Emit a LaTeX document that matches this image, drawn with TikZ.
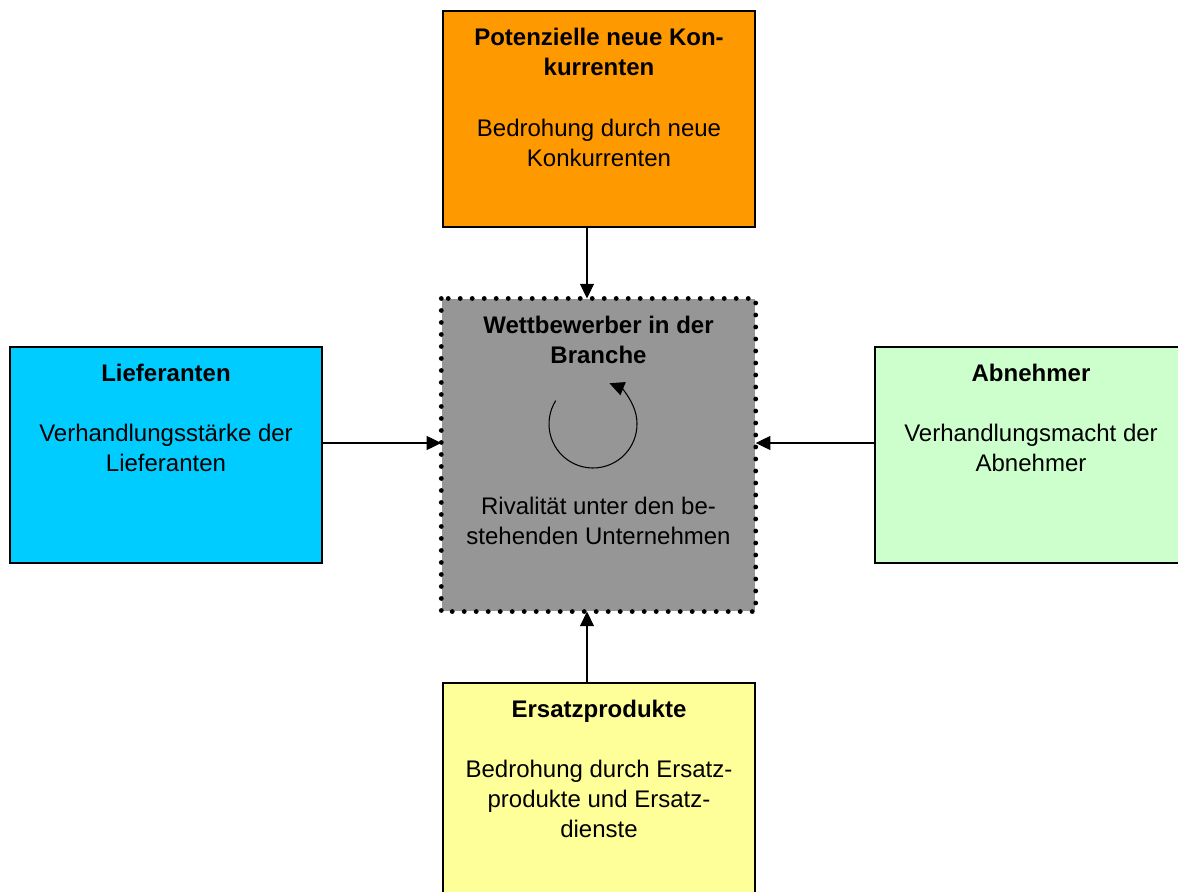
\documentclass[tikz,border=0pt]{standalone}
\usepackage{fontspec}
\setmainfont{Liberation Sans}
\usetikzlibrary{arrows.meta,positioning}

\definecolor{konkorange}{HTML}{FF9900}
\definecolor{liefblau}{HTML}{00CCFF}
\definecolor{abngruen}{HTML}{CCFFCC}
\definecolor{ersatzgelb}{HTML}{FFFF99}
\definecolor{rivgrau}{HTML}{969696}

\tikzset{
  kraft/.style={draw, line width=0.8pt, minimum width=234pt, minimum height=162pt, inner sep=0pt},
  titel/.style={font=\bfseries\fontsize{18}{22.5}\selectfont, align=center, inner sep=0pt, anchor=north},
  inhalt/.style={font=\fontsize{18}{22.5}\selectfont, align=center, inner sep=0pt, anchor=north},
  pfeil/.style={-{Triangle[length=11pt, width=10.5pt]}, line width=0.8pt},
}

\begin{document}
\begin{tikzpicture}[x=0.75pt, y=-0.75pt]
    \useasboundingbox (0,0) rectangle (1178,892);

    % die fuenf Kraefte
    \node[kraft, fill=rivgrau, draw=none, minimum width=235pt, minimum height=234pt] (riv) at (598.5,455) {};
    \draw[line width=3.6pt, line cap=round, dash pattern=on 0pt off 9pt] (riv.north west) rectangle (riv.south east);
    \node[kraft, fill=konkorange] (konk) at (599,119) {};
    \node[kraft, fill=liefblau] (lief) at (166,455) {};
    \node[kraft, fill=abngruen] (abn) at (1031,455) {};
    \node[kraft, fill=ersatzgelb] (ersatz) at (599,791) {};

    % Texte
    \node[titel, below=13pt of konk.north] (konktitel) {Potenzielle neue Kon-\\kurrenten};
    \node[inhalt, below=81pt of konk.north] (konktext) {Bedrohung durch neue\\Konkurrenten};
    \node[titel, below=13pt of riv.north] (rivtitel) {Wettbewerber in der\\Branche};
    \node[inhalt, below=149pt of riv.north] (rivtext) {Rivalität unter den be-\\stehenden Unternehmen};
    \node[titel, below=13pt of lief.north] (lieftitel) {Lieferanten};
    \node[inhalt, below=58pt of lief.north] (lieftext) {Verhandlungsstärke der\\Lieferanten};
    \node[titel, below=13pt of abn.north] (abntitel) {Abnehmer};
    \node[inhalt, below=58pt of abn.north] (abntext) {Verhandlungsmacht der\\Abnehmer};
    \node[titel, below=13pt of ersatz.north] (ersatztitel) {Ersatzprodukte};
    \node[inhalt, below=58pt of ersatz.north] (ersatztext) {Bedrohung durch Ersatz-\\produkte und Ersatz-\\dienste};

    % Pfeile
    \coordinate (achse) at (587,443);
    \draw[pfeil] (konk.south -| achse) -- (riv.north -| achse);
    \draw[pfeil] (ersatz.north -| achse) -- (riv.south -| achse);
    \draw[pfeil] (lief.east |- achse) -- (riv.west |- achse);
    \draw[pfeil] (abn.west |- achse) -- (riv.east |- achse);

    % Rivalitaet
    \draw[pfeil] (593,424) ++(148:33pt) arc[start angle=148, end angle=288, radius=33pt]
        arc[start angle=288, end angle=428, radius=33pt];
\end{tikzpicture}
\end{document}
